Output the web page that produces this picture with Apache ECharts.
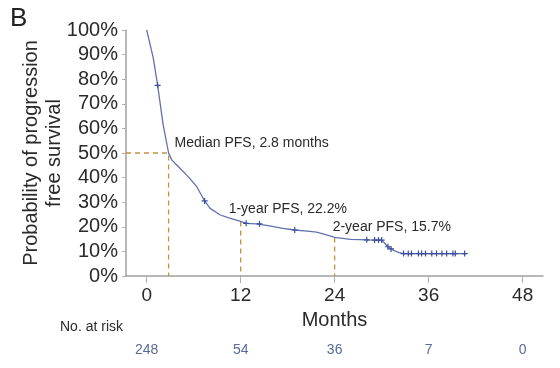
<!DOCTYPE html>
<html>
<head>
<meta charset="utf-8">
<script src="https://cdn.jsdelivr.net/npm/echarts@6/dist/echarts.min.js"></script>
<style>html,body{margin:0;padding:0;background:#fff}#c{width:560px;height:368px}</style>
</head>
<body>
<div id="c"></div>
<script>
// Kaplan-Meier curve (months, % progression-free)
var kmMonths = [0, 0.4, 0.85, 1.4, 2.1, 2.8, 3.2, 4.25, 5.3, 6.4, 7.4, 8.1, 9.4, 10.6, 12.0, 12.7, 14.0, 15.5, 17.4, 18.9, 20.5, 21.7, 23.4, 24.0, 26.0, 28.3, 30.0, 30.8, 31.4, 32.2, 32.8, 40.8];
var kmSurv   = [100, 94.7, 88.5, 77.5, 61.5, 50, 47.2, 43.8, 40.4, 36.3, 30.5, 27.5, 24.8, 23.5, 22.2, 21.4, 21.2, 20.5, 19.4, 18.7, 18.2, 17.8, 16.3, 15.7, 14.9, 14.7, 14.6, 11.9, 10.6, 9.5, 9.1, 9.1];
// censoring marks
var censorMonths = [1.4, 7.4, 12.7, 14.4, 18.9, 28.1, 29.1, 29.6, 30.0, 30.8, 31.2, 32.8, 33.4, 33.8, 34.7, 35.1, 35.6, 36.4, 37.0, 37.7, 38.3, 39.1, 39.4, 40.6];
var censorSurv   = [77.5, 30.5, 21.4, 21.2, 18.7, 14.7, 14.6, 14.6, 14.6, 11.9, 11.0, 9.1, 9.1, 9.1, 9.1, 9.1, 9.1, 9.1, 9.1, 9.1, 9.1, 9.1, 9.1, 9.1];
// landmarks
var landmarkMonths = [2.8, 12, 24];
var landmarkPct = [50, 22.2, 15.7];
var landmarkText = ['Median PFS, 2.8 months', '1-year PFS, 22.2%', '2-year PFS, 15.7%'];
// axes
var xTicks = [0, 12, 24, 36, 48];
var yTickLabels = ['0%', '10%', '20%', '30%', '40%', '50%', '60%', '70%', '8o%', '90%', '100%'];
var riskCounts = [248, 54, 36, 7, 0];
var xMin = -2.64, xMax = 50.6;

var chart = echarts.init(document.getElementById('c'), null, {renderer: 'canvas'});
var FONT = 'Liberation Sans, Arial, sans-serif';
var dashColor = '#c8913c';
var curveColor = '#6171b0';
var censorColor = '#3a4d9c';
var textColor = '#2a2a2a';

var km = kmMonths.map(function (m, i) { return [m, kmSurv[i]]; });
var cens = censorMonths.map(function (m, i) { return [m, censorSurv[i]]; });

function dashSeries(data) {
  return {
    type: 'line', xAxisIndex: 0, yAxisIndex: 0, data: data, symbol: 'none', silent: true,
    lineStyle: {color: dashColor, width: 1.3, type: [5, 4]}, z: 1
  };
}
var dashMedian = dashSeries([[xMin, landmarkPct[0]], [landmarkMonths[0], landmarkPct[0]], [landmarkMonths[0], 0]]);
var dash12 = dashSeries([[landmarkMonths[1], landmarkPct[1]], [landmarkMonths[1], 0]]);
var dash24 = dashSeries([[landmarkMonths[2], landmarkPct[2]], [landmarkMonths[2], 0]]);

var labelOffsets = [[6, -10], [-12, -12], [-2, -10]];
var annData = landmarkMonths.map(function (m, i) {
  return {
    value: [m, landmarkPct[i]],
    label: {show: true, formatter: landmarkText[i], position: 'right', distance: 0, offset: labelOffsets[i],
      color: textColor, fontSize: 14, fontFamily: FONT}
  };
});

chart.setOption({
  animation: false,
  backgroundColor: '#fff',
  textStyle: {fontFamily: FONT},
  grid: [
    {left: 126, right: 17, top: 30, bottom: 92, containLabel: false},
    {left: 126, right: 17, top: 340, height: 1, containLabel: false}
  ],
  xAxis: [
    {
      type: 'value', gridIndex: 0, min: xMin, max: xMax,
      name: 'Months', nameLocation: 'middle', nameGap: 34, nameMoveOverlap: false,
      nameTextStyle: {fontSize: 20, color: textColor, fontFamily: FONT},
      axisLine: {show: true, onZero: false, lineStyle: {color: '#a0a0a0', width: 1.5}},
      axisTick: {show: true, length: 7, customValues: xTicks, lineStyle: {color: '#b0b0b0'}},
      axisLabel: {customValues: xTicks, fontSize: 19, color: textColor, margin: 10, fontFamily: FONT},
      splitLine: {show: false}
    },
    {
      type: 'value', gridIndex: 1, min: xMin, max: xMax,
      axisLine: {show: false}, axisTick: {show: false}, splitLine: {show: false},
      axisLabel: {
        customValues: xTicks, fontSize: 14, color: '#5a6a9c', margin: 2, fontFamily: FONT,
        formatter: function (v) { return String(riskCounts[xTicks.indexOf(v)]); }
      }
    }
  ],
  yAxis: [
    {
      type: 'value', gridIndex: 0, min: 0, max: 100, interval: 10,
      name: 'Probability of progression\nfree survival', nameLocation: 'middle', nameRotate: 90, nameGap: 60,
      nameMoveOverlap: false,
      nameTextStyle: {fontSize: 20, color: textColor, lineHeight: 23, fontFamily: FONT},
      axisLine: {show: true, onZero: false, lineStyle: {color: '#a0a0a0', width: 1.5}},
      axisTick: {show: true, length: 4, lineStyle: {color: '#b0b0b0'}},
      axisLabel: {fontSize: 20, color: textColor, margin: 8, fontFamily: FONT,
        formatter: function (v) { return yTickLabels[Math.round(v / 10)]; }},
      splitLine: {show: false}
    },
    {type: 'value', gridIndex: 1, show: false, min: 0, max: 1}
  ],
  graphic: [
    {type: 'text', left: 10, top: 6, style: {text: 'B', font: '26px ' + FONT, fill: '#222'}},
    {type: 'text', left: 60, top: 320, style: {text: 'No. at risk', font: '14px ' + FONT, fill: textColor}}
  ],
  series: [
    dashMedian, dash12, dash24,
    {
      type: 'line', xAxisIndex: 0, yAxisIndex: 0, data: km, symbol: 'none', silent: true,
      lineStyle: {color: curveColor, width: 1.3}, z: 3
    },
    {
      type: 'scatter', xAxisIndex: 0, yAxisIndex: 0, data: cens, silent: true,
      symbol: 'path://M5,0L5,10M0,5L10,5', symbolSize: 6,
      itemStyle: {color: 'rgba(0,0,0,0)', borderColor: censorColor, borderWidth: 1.2, opacity: 1}, z: 4
    },
    {
      type: 'scatter', xAxisIndex: 0, yAxisIndex: 0, data: annData, symbolSize: 0, silent: true,
      itemStyle: {opacity: 1}, z: 5
    },
    {type: 'scatter', xAxisIndex: 1, yAxisIndex: 1, data: [], silent: true}
  ]
});
</script>
</body>
</html>
